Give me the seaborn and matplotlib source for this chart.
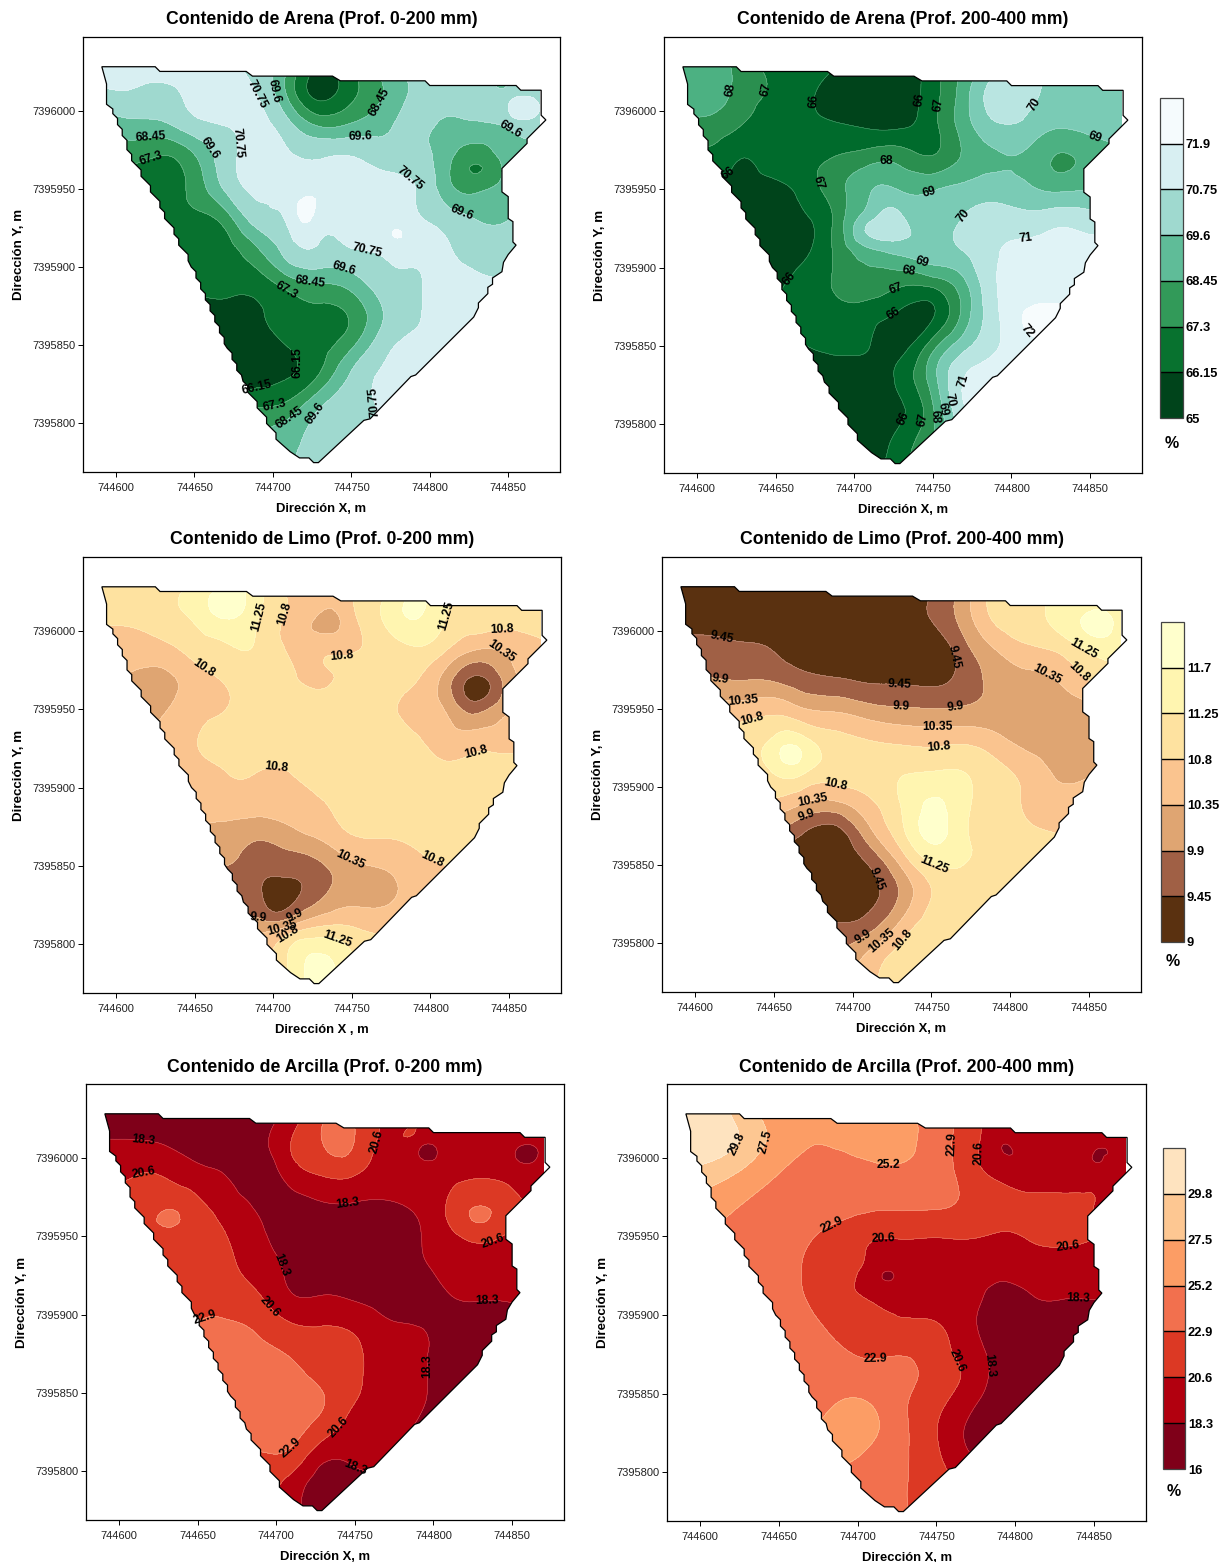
import numpy as np
import matplotlib
matplotlib.use("Agg")
import matplotlib.pyplot as plt
import matplotlib.tri as mtri
from matplotlib.patches import Polygon
from matplotlib.colors import ListedColormap, BoundaryNorm
from matplotlib.cm import ScalarMappable
import seaborn as sns

X_BASE = 744000
Y_BASE = 7395000

# malla de lectura (m, relativo a la base)
x_malla = [590, 610, 630, 650, 670, 690, 710, 730, 750, 770, 790, 810, 830, 850, 870]
y_malla = [1030, 1010, 990, 970, 950, 930, 910, 890, 870, 850, 830, 810, 790, 770]

# contorno del predio
borde_x = [591, 625, 628, 683, 687, 738, 743, 797, 800, 855, 858, 871, 871, 874, 862, 862, 846, 846, 850, 850,
           853, 853, 855, 850, 847, 846, 840, 840, 837, 837, 831, 831, 828, 791, 788, 762, 758, 729, 726, 723,
           717, 711, 702, 702, 699, 696, 696, 693, 690, 690, 687, 684, 684, 681, 680, 677, 677, 674, 674, 671,
           669, 669, 666, 666, 663, 663, 660, 660, 657, 657, 654, 654, 651, 651, 648, 646, 646, 643, 640, 640,
           637, 637, 634, 631, 631, 628, 628, 625, 622, 622, 619, 616, 616, 613, 610, 610, 607, 607, 604, 604,
           601, 601, 598, 598, 594, 594]
borde_y = [1028, 1028, 1025, 1025, 1022, 1022, 1019, 1019, 1016, 1016, 1013, 1013, 997, 994, 982, 979, 963, 948, 945, 931,
           929, 916, 914, 908, 903, 897, 893, 889, 887, 883, 877, 874, 868, 831, 830, 803, 802, 775, 775, 778,
           778, 782, 790, 794, 797, 800, 804, 807, 810, 814, 817, 820, 824, 827, 831, 834, 838, 841, 845, 848,
           851, 855, 858, 862, 865, 869, 872, 876, 879, 883, 886, 890, 893, 897, 900, 904, 908, 911, 914, 918,
           921, 925, 928, 931, 935, 938, 942, 945, 948, 952, 955, 958, 962, 965, 968, 972, 975, 981, 984, 988,
           991, 995, 998, 1001, 1004, 1017]

# niveles de cada panel
niv_arena_0 = [65, 66.15, 67.3, 68.45, 69.6, 70.75, 71.9, 73.05]
niv_arena_2 = [64, 66, 67, 68, 69, 70, 71, 72, 74]
niv_limo = [9, 9.45, 9.9, 10.35, 10.8, 11.25, 11.7, 12.15]
niv_arcilla = [16, 18.3, 20.6, 22.9, 25.2, 27.5, 29.8, 32.1]

col_arena = ["#00441b", "#08722f", "#329a59", "#5fbc98", "#9fd9cf", "#d8eff2", "#f5fbfd"]
col_arena_2 = ["#00441b", "#006b2c", "#2a8f4f", "#4cb182", "#7acbb5", "#b9e5e1", "#e0f3f6", "#f7fcfd"]
col_limo = ["#5a3110", "#a06045", "#dfa572", "#fac48f", "#fee2a0", "#fff5b0", "#ffffcc"]
col_arcilla = ["#7f0019", "#b2000f", "#dc3924", "#f2704e", "#fc9d65", "#fdc792", "#fee3bf"]

arena_0 = [
    [71, 71, 71, 71, 71, 70.2, 68.5, 66, 67.5, 69, 70, 70.2, 70.2, 70, 70],
    [70.5, 70.6, 70.5, 71, 71.2, 70.75, 68.2, 65.8, 67, 68.45, 69.8, 70.2, 70.3, 70.2, 70.2],
    [68.5, 69.2, 69.3, 70.3, 70.75, 71, 70, 68.4, 68.7, 69.3, 70, 69.3, 69.3, 69.8, 70],
    [67, 67.6, 67.2, 68.3, 70.3, 71, 70.85, 70.7, 70.8, 70.3, 70.1, 68.9, 67.75, 69, 69],
    [66.5, 66.5, 66.8, 67.7, 69.8, 70.9, 71.2, 71.5, 71.2, 71.1, 70.8, 69, 68.2, 69, 69],
    [66.3, 66.3, 66.6, 67, 67.8, 70.1, 71, 71.3, 71.3, 71.4, 71.1, 70.3, 69.6, 69.6, 69.8],
    [66, 66, 66, 66.5, 66.9, 68.2, 70.1, 70.5, 70.6, 71, 71.2, 70.9, 70.2, 70.2, 70],
    [66, 66, 66, 66.2, 66.5, 66.7, 67.9, 68.5, 69, 70.2, 70.6, 71.2, 71, 70.8, 70.8],
    [65.8, 65.8, 66, 66, 65.9, 66, 66.7, 67, 67.5, 69.55, 70.6, 71.1, 71, 71, 71],
    [65.5, 65.5, 65.5, 65.5, 65.6, 65.7, 66.2, 66.9, 68.2, 70.3, 70.9, 71, 71, 71, 71],
    [65.5, 65.5, 65.5, 65.5, 65.5, 65.7, 66.1, 67.5, 69.8, 70.85, 71, 71, 71, 71, 71],
    [66, 66, 66, 66.2, 66.5, 67.3, 67.8, 69.6, 70.2, 70.9, 71, 71, 71, 71, 71],
    [67, 67, 67, 67.5, 68, 68.5, 69.2, 70.1, 70.6, 70.8, 70.9, 71, 71, 71, 71],
    [68, 68, 68, 68.5, 69, 69, 69.5, 70.2, 70.5, 70.7, 70.8, 71, 71, 71, 71],
]
arena_2 = [
    [68.8, 68.5, 67.5, 66.7, 66.5, 66, 65.5, 65.5, 66.5, 68.3, 69.5, 70.5, 69.5, 69.5, 69.5],
    [68.5, 68.5, 67.5, 66.8, 66.2, 65.6, 65.5, 65.5, 66.6, 68.6, 70.5, 70.3, 69.7, 69.6, 69.5],
    [67.5, 67.6, 66.9, 66.5, 66.3, 66.1, 65.9, 65.9, 66.7, 68.5, 69.8, 69.7, 69.1, 69.3, 69.3],
    [66.3, 66.6, 66, 66.6, 66.8, 67.1, 67.6, 67.6, 67.1, 68.2, 68.9, 68.8, 67.9, 68.4, 68.6],
    [65.7, 65.7, 65.7, 65.7, 66.5, 67.7, 68.9, 68.9, 68.9, 69.3, 69.5, 69.2, 68.8, 69, 69],
    [65.5, 65.5, 65.5, 65.5, 65.9, 67.5, 69.9, 70.2, 69.6, 70.1, 70.5, 70.4, 70.7, 70.5, 70.5],
    [65.3, 65.3, 65.3, 65.4, 65.9, 67.3, 68.7, 69.3, 69.7, 70, 70.9, 71.2, 71.4, 71.3, 71.3],
    [65.5, 65.5, 65.5, 65.8, 66.5, 67.2, 67.6, 67.2, 67.4, 68.8, 70.95, 71.3, 71.5, 71.4, 71.3],
    [65.8, 65.8, 65.9, 66, 66.2, 66.6, 66.4, 65.8, 65.9, 68.4, 70.8, 72.1, 72.2, 72, 72],
    [65.5, 65.5, 65.5, 65.7, 66, 66.2, 66, 65.7, 67.6, 69.7, 70.9, 71.7, 72, 72, 72],
    [65.5, 65.5, 65.5, 65.5, 65.5, 65.5, 65.5, 66.3, 68.6, 71, 71.3, 71.5, 71.7, 72, 72],
    [65.5, 65.5, 65.5, 65.5, 65.5, 65.5, 65.5, 65.9, 67.9, 70.9, 71, 71.3, 71.5, 71.5, 71.5],
    [65.4, 65.4, 65.4, 65.4, 65.4, 65.4, 65.4, 66.4, 68, 70, 70.5, 71, 71, 71, 71],
    [65.6, 65.6, 65.6, 65.6, 65.6, 65.6, 65.6, 66.8, 68, 69.5, 70, 70.5, 70.5, 70.5, 70.5],
]
limo_0 = [
    [11, 11, 11.1, 11.3, 11.6, 11.4, 10.7, 10.4, 10.7, 11, 11.6, 11.3, 11, 11, 11],
    [10.9, 10.9, 11.1, 11.35, 11.8, 11.3, 10.75, 10.3, 10.7, 11.3, 11.75, 11.25, 11.1, 11, 11],
    [10.6, 10.6, 10.7, 11, 11.2, 11.2, 10.75, 10.65, 10.75, 11, 11.25, 10.9, 10.45, 10.5, 10.7],
    [10.3, 10.3, 10.25, 10.6, 10.85, 10.95, 10.85, 10.75, 10.9, 10.95, 10.85, 10.15, 9.38, 10.15, 10.4],
    [10.2, 10.2, 10.3, 10.65, 10.8, 11, 11, 11, 11, 10.9, 10.7, 10.3, 9.75, 10.3, 10.3],
    [10.4, 10.4, 10.5, 10.78, 10.9, 11, 11, 11, 11, 10.95, 10.85, 10.6, 10.6, 10.65, 10.75],
    [10.6, 10.6, 10.6, 10.7, 10.8, 10.8, 10.8, 11, 11, 11, 11, 10.9, 11, 11, 11],
    [10.5, 10.5, 10.5, 10.5, 10.6, 10.6, 10.6, 10.75, 11, 11, 11, 11, 11, 11, 11],
    [10.2, 10.2, 10.2, 10.2, 10.2, 10, 10.2, 10.45, 10.8, 10.85, 10.9, 11, 11, 11, 11],
    [9.9, 9.9, 9.9, 9.9, 9.9, 9.62, 9.62, 9.82, 10.25, 10.4, 10.65, 10.8, 11, 11, 11],
    [9.4, 9.4, 9.4, 9.4, 9.4, 9.55, 9.3, 9.85, 10.2, 10.25, 10.55, 10.8, 11, 11, 11],
    [9.7, 9.7, 9.7, 9.7, 9.7, 10.2, 10.5, 10.9, 10.85, 10.7, 10.8, 11, 11, 11, 11],
    [10, 10, 10, 10, 10.2, 10.5, 11.3, 11.8, 11.3, 11, 11, 11, 11, 11, 11],
    [10.5, 10.5, 10.5, 10.5, 10.7, 11, 11.4, 11.9, 11.4, 11, 11, 11, 11, 11, 11],
]
limo_2 = [
    [9, 9, 9, 9, 9, 9, 9, 9, 9.3, 10, 10.8, 11, 11.2, 11.4, 11.4],
    [9.1, 9.1, 9.1, 9.1, 9.1, 9.1, 9.1, 9.1, 9.5, 10.1, 10.9, 11.1, 11.4, 11.75, 11.5],
    [9.7, 9.6, 9.5, 9.4, 9.2, 9.15, 9.1, 9.1, 9.15, 9.75, 10.4, 10.75, 10.95, 11.4, 11.4],
    [10, 9.9, 9.85, 9.8, 9.55, 9.45, 9.35, 9.35, 9.3, 9.6, 10.05, 10.25, 10.4, 10.85, 11],
    [10.6, 10.6, 10.55, 10.65, 10.35, 10.25, 10.05, 9.95, 9.9, 9.95, 10.05, 10.1, 10.1, 10.2, 10.3],
    [11, 11, 11, 11.35, 11.35, 10.95, 10.8, 10.7, 10.65, 10.7, 10.5, 10.2, 10.1, 10.05, 10.1],
    [11, 11, 11, 11.3, 11.3, 11, 11.05, 11.2, 11.25, 11.25, 10.95, 10.65, 10.3, 10.3, 10.3],
    [10.7, 10.7, 10.7, 10.7, 10.35, 10.3, 10.7, 11.25, 11.75, 11.4, 11, 10.75, 10.5, 10.5, 10.5],
    [9.7, 9.7, 9.7, 9.7, 9.4, 9.25, 10.15, 11.05, 11.85, 11.35, 11.1, 10.9, 10.8, 10.7, 10.7],
    [9.2, 9.2, 9.2, 9.2, 9.2, 9.15, 9.45, 10.35, 11.2, 11.25, 11.1, 11, 10.9, 10.9, 10.9],
    [9.1, 9.1, 9.1, 9.1, 9.1, 9.1, 9.3, 9.95, 10.8, 11, 10.95, 11, 11, 11, 11],
    [9.55, 9.55, 9.55, 9.55, 9.55, 9.55, 9.75, 10.5, 11, 11, 11, 11, 11, 11, 11],
    [10, 10, 10, 10, 10, 10, 10.5, 10.95, 11, 11, 11, 11, 11, 11, 11],
    [10.5, 10.5, 10.5, 10.5, 10.5, 10.5, 10.7, 10.9, 11, 11, 11, 11, 11, 11, 11],
]
arcilla_0 = [
    [16.5, 16.5, 16.5, 16.5, 16.5, 16.5, 19, 22, 22.5, 19.8, 19.3, 19, 18.5, 19, 19],
    [18.5, 18.5, 18, 17, 16.8, 17.6, 20.7, 23, 22.8, 20.2, 19.3, 19.5, 19.7, 19.2, 19],
    [20, 20.5, 20.3, 19, 18, 16.8, 19.5, 20.9, 20.8, 19.8, 19.6, 19.9, 20.3, 19.5, 19.4],
    [21.5, 21.5, 22.5, 21.2, 19.5, 17.8, 17.4, 18.1, 18.1, 18, 18.9, 20.9, 22.8, 21.2, 20],
    [22, 22, 22.4, 21.7, 20.5, 18.7, 17.2, 16.9, 16.9, 17.1, 18.1, 20, 21.3, 20.3, 20],
    [22.3, 22.3, 22.3, 22.2, 21, 19.5, 17.8, 17, 16.8, 17, 17.8, 19, 19.8, 20, 20],
    [22.5, 22.5, 22.5, 22.7, 22, 20.8, 18.6, 18.6, 18.1, 17.3, 17, 18.1, 18.4, 18.5, 18.5],
    [23, 23, 23, 23, 23.3, 22.6, 21.2, 20.8, 20.4, 18.9, 18.5, 17.3, 17.3, 17.5, 17.5],
    [23.5, 23.5, 23.5, 23.5, 23.9, 23.6, 23, 21.8, 21, 19.5, 18.7, 17.2, 16.8, 17, 17],
    [24, 24, 24, 24, 24, 24, 23.8, 22.9, 20.9, 19.6, 18.7, 17.4, 17, 17, 17],
    [24, 24, 24, 24, 24, 24, 23.7, 22, 19.8, 19, 18.2, 17.4, 17, 17, 17],
    [23.5, 23.5, 23.5, 23.5, 23.5, 22.7, 22.2, 19, 18.9, 18.7, 18, 17.5, 17, 17, 17],
    [22, 22, 22, 22, 22, 21.5, 19.5, 17, 17.2, 17.5, 17.5, 17.5, 17, 17, 17],
    [21, 21, 21, 21, 21, 21, 19.6, 17.3, 17, 17, 17, 17, 17, 17, 17],
]
arcilla_2 = [
    [31, 31, 28, 26.5, 25.3, 25.3, 25.3, 25.3, 24, 21.5, 19.5, 19.5, 19.5, 19.5, 19.5],
    [31, 31, 29, 26.5, 25.3, 25.6, 26, 25.9, 23.8, 21.8, 18.6, 19.6, 19.5, 19.4, 19.5],
    [29.5, 28.5, 26.8, 25.2, 24.5, 24.2, 24.7, 24.7, 24, 21.9, 20, 19.7, 19.5, 19.5, 19.8],
    [26.5, 26, 25, 24.4, 24, 23.7, 23.4, 23.3, 23.2, 22.4, 21.3, 21, 21, 20.6, 20],
    [25, 25, 24.4, 24, 23.1, 21.9, 20.8, 20.8, 20.7, 20.8, 20.4, 20.8, 21, 20.6, 20.3],
    [24.5, 24.5, 24.3, 23.9, 22.4, 21.2, 19.4, 19.1, 19.2, 19.3, 19, 19.3, 19.5, 19.5, 19.5],
    [24, 24, 24, 23.7, 22.7, 21.4, 20.3, 19.8, 19.3, 18.9, 17.6, 18.1, 18.3, 18.3, 18.3],
    [23.6, 23.6, 23.6, 23.6, 23.3, 22.4, 21.5, 21.2, 21, 19, 17.3, 16.9, 17, 17.3, 17.3],
    [23.6, 23.6, 23.6, 23.6, 23.6, 23.5, 23.1, 23.2, 21.7, 20, 17.5, 16.7, 16.6, 17, 17],
    [24, 24, 24, 24, 24, 24.9, 24.6, 23.2, 21.5, 19.5, 17.3, 16.7, 16.7, 17, 17],
    [25, 25, 25, 25, 25, 26.2, 25.6, 23.2, 20.7, 18.1, 17, 17, 17, 17, 17],
    [25, 25, 25, 25, 25, 25.6, 24.5, 23.1, 21, 18.6, 17.5, 17, 17, 17, 17],
    [24, 24, 24, 24, 24, 24, 23.8, 23, 21.5, 20, 18, 17, 17, 17, 17],
    [24, 24, 24, 24, 24, 24, 24, 23, 22, 20, 18, 17, 17, 17, 17],
]

# manchas pequenas que la malla no alcanza
extra_arena_0 = [(733.7, 1012.7, 65.7), (829, 963, 67.2), (813, 963, 68.45), (846, 963, 68.45), (829, 979, 68.45),
                 (829, 947, 68.45), (855, 1003, 71.2), (722, 932, 72.1), (778.5, 922, 71.95)]
extra_arena_2 = [(721, 928, 70.6), (708.5, 928, 70), (734, 928, 70), (721, 938, 70), (721, 917, 70)]
extra_limo_0 = [(829.7, 963.5, 9.2), (821, 963, 9.45), (838, 963, 9.45), (829, 955, 9.45),
                (813, 963, 9.9), (846, 963, 9.9), (829, 980, 9.9), (829, 947, 9.9),
                (705, 832.6, 9.2), (693, 832, 9.45), (717, 832, 9.45), (705, 843, 9.45), (705, 821, 9.45),
                (732, 1008, 10.2), (671, 1013, 11.9)]
extra_limo_2 = [(659.5, 920.5, 11.85), (749.5, 879, 11.85), (854, 1002.5, 11.85)]
extra_arcilla_0 = [(733.7, 1011, 23.6), (829, 963, 23.3), (854.6, 1004.5, 18.1), (793, 1007, 18.2), (632, 967, 22.92)]
extra_arcilla_2 = [(793, 1007, 18.2), (797, 1007, 18.3), (793, 1003, 18.3), (853, 1001.5, 18.15), (849, 1001.5, 18.3),
                   (857, 1001.5, 18.3), (853, 997, 18.3), (853, 1006, 18.3), (717, 925, 18.2)]

# posicion de las etiquetas de isolinea
etq_arena_0 = [(686.6, 1008.9), (698.4, 1012.1), (764.3, 1007.9), (756.1, 983.8), (849.1, 983.8), (621.9, 982.4), (668.5, 979.6),
               (657.2, 974.5), (623, 967.1), (782.7, 950.1), (820.9, 935.2), (759.2, 906.9), (744.8, 898.4), (723.9, 892.5),
               (707.8, 883.1), (709.7, 838.5), (687.8, 831.5), (701.2, 811.9), (710.7, 803.8), (728.3, 804.9), (757.8, 810.8)]
etq_arena_2 = [(623.5, 1013.2), (644.9, 1013.2), (679, 1006.4), (741.9, 1007), (753.3, 1003.8), (812.7, 1004.9), (851.6, 978.3),
               (623.8, 955.4), (680.6, 954.8), (720.2, 960.3), (748, 946.5), (769.7, 933.1), (809.3, 917.2), (744.3, 907.6),
               (734.8, 898.1), (660.5, 891.7), (726.1, 887.9), (724.2, 872.2), (811.4, 860.9), (774.2, 826.5), (763, 816),
               (758.3, 810), (750.4, 804.7), (741.9, 803), (732.7, 803)]
etq_limo_0 = [(692.6, 1008.3), (709.5, 1010), (816.7, 1007.9), (846.2, 997.2), (844.3, 984.9), (656.1, 976.6), (743.7, 982.3),
              (828, 926), (701.8, 907.2), (748.9, 853.2), (801.4, 854), (690.7, 816.8), (713.8, 818.5), (706, 810), (710.2, 804.7),
              (740.2, 802.1)]
etq_limo_2 = [(615.9, 992.6), (616.4, 971.9), (630.4, 955.7), (636.5, 941.5), (760.8, 981.9), (729.6, 962.8), (731, 951.1),
              (764.8, 954.3), (754, 939.4), (754.8, 926), (822.8, 970.9), (846, 986.8), (844.7, 974.5), (689.2, 902.1),
              (674.9, 889.4), (671.4, 879.8), (753.4, 853.6), (711.9, 840), (705, 806.4), (716.4, 804.3), (729.6, 804.3)]
etq_arcilla_0 = [(616, 1013.2), (764.4, 1010), (616, 987.7), (745.1, 970.7), (839.8, 940.3), (700.4, 930.4), (696.1, 905.3),
                 (655.1, 896.8), (834.6, 899.6), (794.6, 866.7), (741.6, 826.3), (707.9, 816.8), (751, 803.4)]
etq_arcilla_2 = [(619.8, 1011), (641, 1010.6), (719.5, 997.2), (758.6, 1008.9), (776.3, 1003), (683, 959), (716.3, 944.6),
                 (833.6, 942.7), (839.7, 908.7), (710.7, 878.3), (758.6, 868.4), (782.1, 867.7)]

x_ticks = [744600, 744650, 744700, 744750, 744800, 744850]
y_ticks = [7395800, 7395850, 7395900, 7395950, 7396000]

ANCHO, ALTO = 1231, 1562

sns.set_theme(style="ticks")
plt.rcParams["font.family"] = ["Liberation Sans", "DejaVu Sans"]
plt.rcParams["text.color"] = "black"
plt.rcParams["axes.labelcolor"] = "black"

fig = plt.figure(figsize=(ANCHO / 100, ALTO / 100), dpi=100, facecolor="white")


def caja(izq, der, arr, aba):
    return [izq / ANCHO, 1 - aba / ALTO, (der - izq) / ANCHO, (aba - arr) / ALTO]


def panel(caja_px, titulo, xlab, z, extra, niveles, colores, etiquetas):
    ax = fig.add_axes(caja(*caja_px))
    xx, yy = np.meshgrid(np.array(x_malla), np.array(y_malla))
    px = np.r_[xx.ravel(), [e[0] for e in extra]]
    py = np.r_[yy.ravel(), [e[1] for e in extra]]
    pz = np.r_[np.array(z, dtype=float).ravel(), [e[2] for e in extra]]

    # triangular sin la base evita problemas numericos
    tri = mtri.Triangulation(px, py)
    fino, zf = mtri.UniformTriRefiner(tri).refine_field(pz, subdiv=3)
    fino = mtri.Triangulation(fino.x + X_BASE, fino.y + Y_BASE, fino.triangles)

    pal = sns.color_palette(colores)
    rellenos = ax.tricontourf(fino, zf, levels=niveles, colors=pal, extend="both")
    lineas = ax.tricontour(fino, zf, levels=niveles[1:-1], colors="white", linewidths=0.3, alpha=0.45)

    forma = Polygon(np.c_[np.array(borde_x) + X_BASE, np.array(borde_y) + Y_BASE], closed=True,
                    fc="none", ec="black", lw=0.9, zorder=4)
    ax.add_patch(forma)
    rellenos.set_clip_path(forma)
    lineas.set_clip_path(forma)

    ax.clabel(lineas, levels=niveles[1:-1], inline=False, fontsize=8.7, fmt="%g",
              manual=[(e[0] + X_BASE, e[1] + Y_BASE) for e in etiquetas])
    for t in lineas.labelTexts:
        t.set_alpha(1)
        t.set_color("black")
        t.set_fontweight("bold")
        t.set_clip_on(False)
        t.set_zorder(6)
        # la etiqueta baja de 70.75 se lee hacia arriba
        if t.get_text() == "70.75" and t.get_position()[1] < 7395850 and t.get_rotation() > 180:
            t.set_rotation(t.get_rotation() - 180)

    ax.set_xlim(744579, 744883)
    ax.set_ylim(7395769, 7396047)
    ax.set_xticks(x_ticks, [str(v) for v in x_ticks])
    ax.set_yticks(y_ticks, [str(v) for v in y_ticks])
    ax.tick_params(labelsize=8, length=3.5, width=0.7, color="black", labelcolor="#222222")
    ax.tick_params(axis="x", pad=4.5)
    ax.tick_params(axis="y", pad=2)
    for s in ax.spines.values():
        s.set_linewidth(0.9)
        s.set_color("black")
    ax.set_title(titulo, fontsize=12.7, fontweight="bold", pad=9)
    ax.set_xlabel(xlab, fontsize=9.4, fontweight="bold", labelpad=7)
    ax.set_ylabel("Dirección Y, m", fontsize=9.6, fontweight="bold", labelpad=5.5)
    return ax


def barra(caja_px, niveles, colores, pct_y):
    cax = fig.add_axes(caja(*caja_px))
    sm = ScalarMappable(norm=BoundaryNorm(niveles, len(colores)), cmap=ListedColormap(sns.color_palette(colores)))
    cb = fig.colorbar(sm, cax=cax, drawedges=True, spacing="proportional", ticks=niveles[:-1])
    cb.minorticks_off()
    cb.ax.set_yticklabels([f"{v:g}" for v in niveles[:-1]])
    cb.ax.tick_params(labelsize=9.3, length=0, pad=2, labelcolor="black")
    for t in cb.ax.get_yticklabels():
        t.set_fontweight("bold")
    cb.dividers.set_color("black")
    cb.dividers.set_linewidth(1.0)
    cb.outline.set_linewidth(0.9)
    cb.outline.set_edgecolor("#444444")
    cx = (caja_px[0] + caja_px[1]) / 2 / ANCHO
    fig.text(cx, 1 - pct_y / ALTO, "%", fontsize=11.5, fontweight="bold", ha="center", va="center")


panel((83, 560, 37, 472), "Contenido de Arena (Prof. 0-200 mm)", "Dirección X, m", arena_0, extra_arena_0,
      niv_arena_0, col_arena, etq_arena_0)
panel((664, 1142, 37, 473), "Contenido de Arena (Prof. 200-400 mm)", "Dirección X, m", arena_2, extra_arena_2,
      niv_arena_2, col_arena_2, etq_arena_2)
panel((83, 561, 557, 993), "Contenido de Limo (Prof. 0-200 mm)", "Dirección X , m", limo_0, extra_limo_0,
      niv_limo, col_limo, etq_limo_0)
panel((662, 1141, 557, 992), "Contenido de Limo (Prof. 200-400 mm)", "Dirección X, m", limo_2, extra_limo_2,
      niv_limo, col_limo, etq_limo_2)
panel((86, 564, 1084, 1520), "Contenido de Arcilla (Prof. 0-200 mm)", "Dirección X, m", arcilla_0, extra_arcilla_0,
      niv_arcilla, col_arcilla, etq_arcilla_0)
panel((667, 1146, 1084, 1521), "Contenido de Arcilla (Prof. 200-400 mm)", "Dirección X, m", arcilla_2, extra_arcilla_2,
      niv_arcilla, col_arcilla, etq_arcilla_2)

barra((1160, 1183, 98, 418), niv_arena_0, col_arena, 444)
barra((1161, 1184, 622, 942), niv_limo, col_limo, 962)
barra((1163, 1185, 1148, 1469), niv_arcilla, col_arcilla, 1491)

fig.savefig("out.png", dpi=100, facecolor="white")
